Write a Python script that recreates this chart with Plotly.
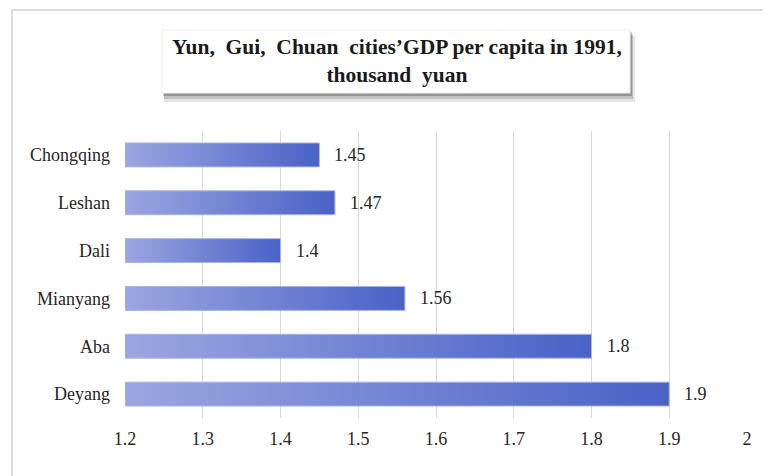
import plotly.graph_objects as go

# ---- data ----
cities = ["Chongqing", "Leshan", "Dali", "Mianyang", "Aba", "Deyang"]
gdp_per_capita = [1.45, 1.47, 1.4, 1.56, 1.8, 1.9]
x_tick_values = [1.2, 1.3, 1.4, 1.5, 1.6, 1.7, 1.8, 1.9, 2.0]
x_tick_labels = ["1.2", "1.3", "1.4", "1.5", "1.6", "1.7", "1.8", "1.9", "2"]
value_labels = ["1.45", "1.47", "1.4", "1.56", "1.8", "1.9"]
title_text = "<b>Yun,  Gui,  Chuan  cities’GDP per capita in 1991,</b><br><b>thousand  yuan</b>"

# ---- layout constants (screen pixels; the page body adds an 8px offset) ----
OFF = 8
SW, SH = 771, 476
W, H = SW - OFF, SH - OFF
PL, PR, PT, PB = 125, 747, 131, 418          # plot area in screen px
ML, MR, MT, MB = PL - OFF, SW - PR, PT - OFF, SH - PB
PW, PH = PR - PL, PB - PT
X_MIN, X_MAX = 1.2, 2.0
FONT = "Liberation Serif, Times New Roman, DejaVu Serif, serif"


def px_x(px):
    return (px - PL) / PW


def px_y(py):
    return (PB - py) / PH


n = len(cities)
ypos = [n - 1 - i for i in range(n)]
half = 0.25

fig = go.Figure()
for city, v, p in zip(cities, gdp_per_capita, ypos):
    fig.add_trace(go.Scatter(
        x=[X_MIN, v, v, X_MIN, X_MIN],
        y=[p - half, p - half, p + half, p + half, p - half],
        mode="lines",
        fill="toself",
        fillgradient=dict(type="horizontal",
                          colorscale=[[0, "#9ba6e1"], [1, "#4a62c7"]]),
        line=dict(color="#aab4e6", width=1),
        name=city,
        hoverinfo="skip",
        showlegend=False,
    ))

annotations = []
for v, p, lab in zip(gdp_per_capita, ypos, value_labels):
    annotations.append(dict(
        x=v, y=p, xref="x", yref="y", text=lab, showarrow=False,
        xanchor="left", yanchor="middle", xshift=13,
        font=dict(family=FONT, size=18, color="#262626"),
    ))

# title
annotations.append(dict(
    x=px_x(397), y=px_y(61), xref="paper", yref="paper", text=title_text,
    showarrow=False, xanchor="center", yanchor="middle",
    font=dict(family=FONT, size=21.5, color="#1a1a1a"),
    align="center",
))

shapes = [
    # outer chart border (left & top visible)
    dict(type="rect", xref="paper", yref="paper",
         x0=px_x(12), x1=px_x(SW + 20), y0=px_y(SH + 20), y1=px_y(10),
         line=dict(color="#dcdcdc", width=2), fillcolor="rgba(0,0,0,0)", layer="below"),
    # title shadow
    dict(type="rect", xref="paper", yref="paper",
         x0=px_x(164), x1=px_x(635), y0=px_y(102), y1=px_y(36),
         line=dict(width=0), fillcolor="rgba(0,0,0,0.10)", layer="above"),
    dict(type="rect", xref="paper", yref="paper",
         x0=px_x(164), x1=px_x(633), y0=px_y(99), y1=px_y(34),
         line=dict(width=0), fillcolor="rgba(0,0,0,0.16)", layer="above"),
    dict(type="rect", xref="paper", yref="paper",
         x0=px_x(163), x1=px_x(632), y0=px_y(96), y1=px_y(32),
         line=dict(width=0), fillcolor="rgba(0,0,0,0.22)", layer="above"),
    # title box
    dict(type="rect", xref="paper", yref="paper",
         x0=px_x(162), x1=px_x(630), y0=px_y(93), y1=px_y(30),
         line=dict(color="#eeeeee", width=1), fillcolor="white", layer="above"),
]

fig.update_layout(
    width=W, height=H,
    margin=dict(l=ML, r=MR, t=MT, b=MB, autoexpand=False),
    paper_bgcolor="white", plot_bgcolor="white",
    font=dict(family=FONT, size=18, color="#262626"),
    xaxis=dict(range=[X_MIN, X_MAX], tickvals=x_tick_values, ticktext=x_tick_labels,
               showgrid=True, gridcolor="#d9d9d9", gridwidth=1, zeroline=False,
               showline=False, ticks="", ticklabelstandoff=8, automargin=False,
               tickfont=dict(family=FONT, size=18, color="#262626")),
    yaxis=dict(range=[-0.5, n - 0.5], tickvals=ypos, ticktext=cities,
               showgrid=False, zeroline=False, showline=False, ticks="",
               ticklabelstandoff=14, automargin=False,
               tickfont=dict(family=FONT, size=18, color="#262626")),
    annotations=annotations,
    shapes=shapes,
    showlegend=False,
)

fig.write_html("out.html")
